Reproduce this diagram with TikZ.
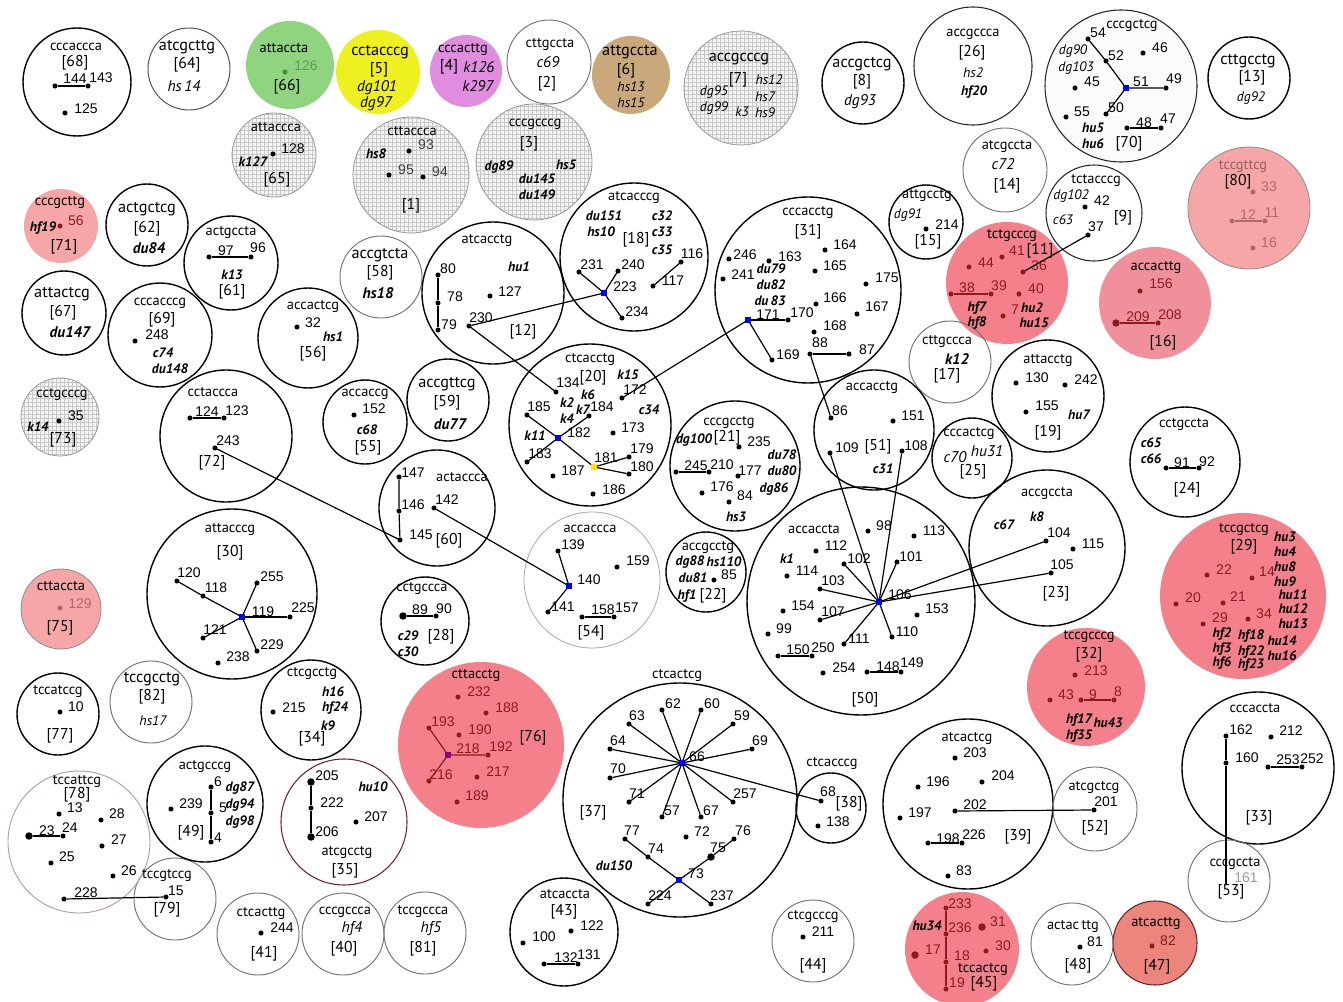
\documentclass[tikz,border=0pt]{standalone}
\usepackage{fontspec}
\setmainfont{PT Sans}
\newfontfamily\numfont{Liberation Sans}
\usetikzlibrary{patterns}
\definecolor{gr1}{HTML}{8FD47E}
\definecolor{ye1}{HTML}{EEF01F}
\definecolor{mg1}{HTML}{E08DE0}
\definecolor{tn1}{HTML}{C9A97B}
\definecolor{pk1}{HTML}{F6A6A7}
\definecolor{pk2}{HTML}{F3808A}
\definecolor{pk3}{HTML}{F0909B}
\definecolor{pk4}{HTML}{EC867D}
\definecolor{dr}{HTML}{8E1B1E}
\definecolor{mr}{HTML}{B0686A}
\definecolor{gdk}{HTML}{3E8E3E}
\definecolor{br78}{HTML}{B89C9C}
\definecolor{br35}{HTML}{6E2424}
\colorlet{dc}{black}
\colorlet{nc}{black}
\tikzset{
  xc/.style={circle, inner sep=0pt, outer sep=0pt, minimum size=#1*1.5pt},
  xbk/.style={draw=black, line width=1.05pt},
  xbt/.style={draw=black!85, line width=0.8pt},
  xgy/.style={draw=black!55, line width=0.7pt},
  xgl/.style={draw=black!35, line width=0.6pt},
  xgrid/.style={draw=black!40, line width=0.6pt, preaction={fill=black!4}, pattern=grid, pattern color=black!22},
  xdot/.style={circle, fill=dc, inner sep=0pt, outer sep=0pt, minimum size=3.8pt},
  xblue/.style={rectangle, inner sep=0pt, outer sep=0pt, minimum size=4.4pt},
  xnum/.style={font=\numfont\fontsize{10.5}{12}\selectfont, text=nc, inner sep=0pt},
  xseq/.style={font=\fontsize{10.8}{12}\selectfont, inner sep=0pt},
  xseqL/.style={font=\fontsize{12.2}{13}\selectfont, inner sep=0pt},
  xbr/.style={font=\fontsize{11.8}{13}\selectfont, inner sep=0pt},
  xit/.style={font=\itshape\fontsize{10.3}{12}\selectfont, inner sep=0pt},
  xitL/.style={font=\itshape\fontsize{11.6}{13}\selectfont, inner sep=0pt},
  xbi/.style={font=\bfseries\itshape\fontsize{10.2}{11}\selectfont, inner sep=0pt},
  xbiL/.style={font=\bfseries\itshape\fontsize{11.5}{13}\selectfont, inner sep=0pt},
  xln/.style={draw=black, line width=0.9pt},
}
\newcommand\Dt[3]{\node[xdot] (d#1) at (#2) {}; \node[xnum] (t#1) at (#3) {#1};}
\newcommand\Bd[3]{\node[xdot,minimum size=5.6pt] (d#1) at (#2) {}; \node[xnum] (t#1) at (#3) {#1};}
\newcommand\Ct[4]{\node[xblue,fill=#4] (d#1) at (#2) {}; \node[xnum] (t#1) at (#3) {#1};}
\begin{document}
\begin{tikzpicture}[x=0.75pt,y=-0.75pt]
\useasboundingbox (0,0) rectangle (1343,1002);
% ---------- filled circles ----------
\node[xc=44, fill=gr1] (c66) at (290,65) {};
\node[xc=42, fill=ye1] (c5) at (378,72) {};
\node[xc=36, fill=mg1] (c4) at (466,71) {};
\node[xc=39, fill=tn1] (c6) at (631,75) {};
\node[xc=37, fill=pk1] (c71) at (61,226) {};
\node[xc=61, fill=pk1, draw=black!45, line width=0.6pt] (c80) at (1249,208) {};
\node[xc=61, fill=pk2] (c11) at (1007,283) {};
\node[xc=56, fill=pk3] (c16) at (1155,303) {};
\node[xc=40, fill=pk1, draw=black!45, line width=0.6pt] (c75) at (61,609) {};
\node[xc=83, fill=pk2] (c29) at (1243,596) {};
\node[xc=59, fill=pk2] (c32) at (1086,687) {};
\node[xc=83, fill=pk2] (c76) at (481,745) {};
\node[xc=57, fill=pk2] (c45) at (962,949) {};
\node[xc=42, fill=pk4, draw=br35, line width=0.8pt] (c47) at (1155,943) {};
% ---------- grid circles ----------
\node[xc=42, xgrid] (c65) at (274,155) {};
\node[xc=58, xgrid] (c1) at (411,175) {};
\node[xc=58, xgrid] (c3) at (534,162) {};
\node[xc=57, xgrid] (c7) at (741,88) {};
\node[xc=39, xgrid] (c73) at (60,417) {};
% ---------- outline circles ----------
\node[xc=54, xbk] (c68) at (77,82) {};
\node[xc=41, xgy, draw=black!70] (c64) at (189,69) {};
\node[xc=42, xgy] (c2) at (549,62) {};
\node[xc=41, xbk] (c8) at (863,83) {};
\node[xc=59, xbt] (c26) at (973,66) {};
\node[xc=76, xbt, fill=black!1.5] (c70) at (1121,86) {};
\node[xc=41, xbk] (c13) at (1249,78) {};
\node[xc=41, xbk] (c62) at (147,225) {};
\node[xc=47, xbk] (c61) at (231,263) {};
\node[xc=41, xgy] (c58) at (381,277) {};
\node[xc=71, xbk] (c12) at (493,293) {};
\node[xc=74, xbk] (c18) at (634,257) {};
\node[xc=93, xbk] (c31) at (808,290) {};
\node[xc=37, xbk] (c15) at (926,222) {};
\node[xc=42, xgy] (c14) at (1005,170) {};
\node[xc=48, xbt] (c9) at (1094,213) {};
\node[xc=41, xgy] (c17) at (950,362) {};
\node[xc=56, xbk] (c19) at (1048,396) {};
\node[xc=55, xbk] (c24) at (1185,462) {};
\node[xc=40, xbk] (c25) at (972,458) {};
\node[xc=60, xbk] (c51) at (874,430) {};
\node[xc=114, xbk] (c50) at (861,601) {};
\node[xc=78, xbk] (c23) at (1047,548) {};
\node[xc=117, xbk] (c37) at (680,800) {};
\node[xc=35, xbk] (c38) at (831,808) {};
\node[xc=85, xbk] (c39) at (968,804) {};
\node[xc=42, xgy] (c52) at (1095,809) {};
\node[xc=76, xbk] (c33) at (1258,768) {};
\node[xc=41, xgy] (c53) at (1229,881) {};
\node[xc=41, xgy] (c48) at (1072,944) {};
\node[xc=41, xgy] (c44) at (813,941) {};
\node[xc=54, xbk] (c43) at (564,932) {};
\node[xc=41, xgy] (c81) at (425,933) {};
\node[xc=41, xgy] (c40) at (343,934) {};
\node[xc=41, xgy] (c41) at (258,934) {};
\node[xc=41, xgy] (c79) at (175,899) {};
\node[xc=71, draw=br78, line width=0.7pt] (c78) at (79,842) {};
\node[xc=58, xbk] (c49) at (205,804) {};
\node[xc=63, draw=br35, line width=0.8pt] (c35) at (344,822) {};
\node[xc=50, xbk] (c34) at (311,710) {};
\node[xc=41, xgy] (c82) at (151,702) {};
\node[xc=41, xbk] (c77) at (58,714) {};
\node[xc=42, xbk] (c67) at (64,313) {};
\node[xc=52, xbk] (c69) at (160,335) {};
\node[xc=50, xbk] (c56) at (308,338) {};
\node[xc=66, xbk] (c72) at (226,436) {};
\node[xc=42, xbk] (c55) at (365,422) {};
\node[xc=41, xbk] (c59) at (448,400) {};
\node[xc=58, xbk] (c60) at (437,508) {};
\node[xc=85, xbk] (c30) at (232,594) {};
\node[xc=44, xbk] (c28) at (425,621) {};
\node[xc=81, xbk] (c20) at (590,425) {};
\node[xc=65, xbk] (c21) at (735,466) {};
\node[xc=40, xbk] (c22) at (706,572) {};
\node[xc=68, xgl] (c54) at (592,580) {};

% ---------- dots (black) ----------
\Dt{144}{55,86}{75,79} \Dt{143}{88,86}{101,78} \Dt{125}{65,113}{86,109}
\Dt{97}{209,257}{226,251} \Dt{96}{251,257}{258,248}
\Dt{54}{1088,39}{1098,33} \Dt{52}{1106,61}{1116,56} \Dt{46}{1143,53}{1160,48}
\Dt{45}{1075,88}{1092,82} \Ct{51}{1126,88}{1141,82}{blue} \Dt{49}{1166,88}{1174,79}
\Dt{55}{1066,117}{1082,112} \Dt{50}{1106,114}{1116,108} \Dt{48}{1127,128}{1144,123} \Dt{47}{1161,128}{1168,119}
\Dt{80}{438,275}{448,269} \Dt{78}{438,303}{455,297} \Dt{79}{438,330}{449,325}
\Dt{127}{490,296}{510,292} \Dt{230}{469,326}{481,318}
\Dt{231}{579,272}{592,265} \Dt{240}{618,271}{633,265} \Ct{223}{604,293}{625,287}{blue}
\Dt{234}{622,318}{637,312} \Dt{116}{681,262}{692,254} \Dt{117}{653,286}{673,281}
\Dt{246}{729,259}{745,255} \Dt{163}{769,261}{790,257} \Dt{164}{825,250}{845,245}
\Dt{241}{723,279}{743,275} \Dt{165}{815,271}{835,266} \Dt{175}{866,284}{887,278}
\Dt{166}{816,304}{835,298} \Dt{167}{857,314}{877,307} \Dt{168}{814,332}{835,326}
\Ct{171}{748,320}{768,315}{blue} \Dt{170}{788,320}{802,313} \Dt{169}{772,360}{788,355}
\Dt{88}{810,354}{820,343} \Dt{87}{849,354}{867,350}
\Dt{214}{926,229}{947,225}
\Dt{42}{1085,207}{1102,201} \Dt{37}{1088,235}{1096,227}
\Dt{130}{1016,383}{1037,378} \Dt{242}{1065,385}{1086,380} \Dt{155}{1026,412}{1047,406}
\Dt{91}{1166,468}{1182,463} \Dt{92}{1199,468}{1207,462}
\Dt{86}{831,418}{840,411} \Dt{151}{893,421}{913,416} \Dt{109}{830,453}{847,448} \Dt{108}{902,451}{916,446}
\Dt{98}{868,531}{884,526} \Dt{113}{914,536}{934,531} \Dt{112}{816,551}{836,546}
\Dt{102}{844,564}{859,559} \Dt{101}{897,562}{911,557} \Dt{114}{787,576}{807,571}
\Dt{103}{820,589}{833,581} \Ct{106}{879,602}{900,595}{blue} \Dt{154}{783,611}{803,606}
\Dt{107}{820,620}{833,612} \Dt{153}{917,615}{937,609} \Dt{99}{768,634}{784,629}
\Dt{110}{892,637}{907,632} \Dt{111}{844,644}{859,639} \Dt{150}{778,656}{798,650}
\Dt{250}{812,656}{823,648} \Dt{254}{823,673}{844,668} \Dt{148}{867,672}{888,667} \Dt{149}{901,672}{912,663}
\Dt{104}{1046,541}{1059,533} \Dt{115}{1073,549}{1093,544} \Dt{105}{1051,573}{1062,565}
\Dt{124}{190,418}{207,412} \Dt{123}{224,418}{237,411} \Dt{243}{215,448}{228,441}
\Dt{152}{354,415}{374,409} \Dt{32}{297,327}{313,323} \Dt{248}{135,341}{157,335}
\Dt{35}{59,421}{76,416}
\Dt{147}{399,477}{413,473} \Dt{146}{399,511}{413,505} \Dt{142}{434,508}{447,500} \Dt{145}{400,540}{421,535}
\Dt{120}{177,581}{189,573} \Dt{118}{203,596}{216,588} \Dt{255}{257,583}{272,577}
\Ct{119}{242,617}{263,612}{blue} \Dt{225}{290,617}{303,608} \Dt{121}{203,638}{215,630}
\Dt{229}{257,651}{272,645} \Dt{238}{218,663}{238,657}
\Bd{89}{403,616}{420,610} \Dt{90}{436,616}{444,609}
\Dt{134}{556,392}{568,383} \Dt{172}{622,398}{635,390} \Dt{185}{527,415}{539,407}
\Dt{184}{589,416}{602,407} \Ct{182}{558,438}{579,433}{blue} \Dt{173}{613,433}{633,428}
\Dt{183}{527,462}{540,454} \Ct{181}{594,467}{606,458}{yellow!85!orange} \Dt{179}{629,457}{642,449}
\Dt{180}{629,474}{642,467} \Dt{187}{553,476}{573,471} \Dt{186}{593,494}{614,490}
\Dt{235}{739,447}{759,442} \Dt{245}{676,472}{696,466} \Dt{210}{709,472}{722,465}
\Dt{177}{738,476}{750,471} \Dt{176}{702,493}{722,487} \Dt{84}{729,502}{745,496}
\Dt{85}{714,580}{729,575}
\Dt{139}{558,551}{573,545} \Dt{159}{617,567}{638,561} \Ct{140}{569,586}{589,580}{blue}
\Dt{141}{548,612}{563,607} \Dt{158}{582,617}{603,610} \Dt{157}{614,617}{627,608}
\Dt{10}{60,712}{76,707} \Dt{215}{273,712}{294,708}
\Dt{6}{211,787}{218,782} \Dt{239}{171,809}{191,804} \Dt{5}{211,813}{223,808} \Dt{4}{211,842}{218,838}
\Bd{205}{311,782}{327,776} \Dt{222}{311,808}{332,803} \Dt{207}{356,822}{376,817} \Bd{206}{311,837}{327,832}
\Dt{13}{59,814}{75,808} \Dt{28}{101,820}{117,814} \Bd{23}{29,836}{47,831} \Dt{24}{63,836}{70,828}
\Dt{27}{102,846}{119,840} \Dt{25}{51,863}{67,857} \Dt{26}{113,876}{129,871} \Dt{228}{64,899}{86,893}
\Dt{15}{166,897}{176,891}
\Dt{244}{261,933}{282,928}
\Dt{122}{571,931}{592,926} \Dt{100}{523,943}{544,937} \Dt{132}{544,964}{566,958} \Dt{131}{578,964}{589,955}
\Ct{66}{682,763}{697,757}{blue} \Dt{62}{662,710}{673,704} \Dt{60}{701,710}{712,704}
\Dt{63}{629,724}{637,716} \Dt{59}{733,724}{742,716} \Dt{64}{610,749}{618,741} \Dt{69}{752,749}{760,741}
\Dt{70}{610,778}{618,769} \Dt{71}{629,802}{637,794} \Dt{57}{662,817}{672,811} \Dt{67}{701,817}{711,811}
\Dt{257}{733,802}{745,794} \Dt{77}{625,839}{632,831} \Dt{72}{686,837}{702,832} \Dt{76}{734,839}{743,831}
\Dt{74}{648,857}{656,849} \Bd{75}{711,857}{718,848} \Ct{73}{679,880}{696,874}{blue}
\Dt{224}{648,904}{660,896} \Dt{237}{711,904}{722,896}
\Dt{68}{821,801}{828,792} \Dt{138}{818,826}{838,822}
\Dt{211}{803,937}{823,932}
\Dt{203}{955,758}{975,753} \Dt{196}{918,787}{938,782} \Dt{204}{982,782}{1003,776}
\Dt{202}{955,811}{975,805} \Dt{197}{900,818}{920,813} \Dt{198}{928,843}{948,839}
\Dt{226}{962,843}{974,835} \Dt{83}{948,876}{964,871}
\Dt{201}{1094,810}{1106,802}
\Dt{162}{1226,736}{1241,730} \Dt{212}{1271,737}{1291,731} \Dt{160}{1226,763}{1247,758}
\Dt{253}{1268,767}{1288,760} \Dt{252}{1302,767}{1312,759}
\coordinate (d161) at (1226,884);
\node[xnum, text=black!40] (t161) at (1246,878) {161};
\Dt{81}{1080,947}{1095,942}
% ---------- coloured dots ----------
\begin{scope}
\colorlet{dc}{gdk}\colorlet{nc}{gdk!85}
\Dt{126}{285,72}{306,66}
\end{scope}
\begin{scope}
\colorlet{dc}{dr}\colorlet{nc}{dr}
\Dt{56}{60,226}{76,221}
\Dt{41}{1002,257}{1017,251} \Dt{44}{969,267}{986,263} \Dt{36}{1023,272}{1039,266}
\Dt{38}{951,294}{967,288} \Dt{39}{991,294}{999,286} \Dt{40}{1019,294}{1036,289} \Dt{7}{1003,316}{1015,310}
\Dt{156}{1140,291}{1161,284} \Bd{209}{1116,323}{1138,317} \Dt{208}{1158,323}{1170,315}
\Dt{22}{1207,575}{1224,570} \Dt{14}{1252,578}{1267,572} \Dt{20}{1176,604}{1193,598}
\Dt{21}{1223,603}{1238,597} \Dt{29}{1203,624}{1220,618} \Dt{34}{1248,619}{1264,614}
\Dt{213}{1075,675}{1096,671} \Dt{43}{1050,700}{1066,695} \Dt{9}{1081,700}{1093,695} \Dt{8}{1114,700}{1118,692}
\Dt{232}{458,697}{479,692} \Dt{188}{486,713}{507,708} \Dt{193}{429,728}{443,722}
\Dt{190}{459,735}{480,730} \Ct{218}{448,755}{468,749}{violet} \Dt{192}{488,755}{501,747}
\Dt{216}{429,781}{441,775} \Dt{217}{477,777}{498,772} \Dt{189}{457,802}{477,796}
\Dt{233}{946,908}{960,904} \Dt{236}{946,934}{960,928} \Bd{31}{982,927}{998,922}
\Bd{17}{915,955}{933,950} \Dt{30}{986,951}{1003,946} \Dt{18}{946,962}{962,956} \Dt{19}{946,989}{957,983}
\Dt{82}{1152,946}{1168,941}
\end{scope}
\begin{scope}
\colorlet{dc}{mr}\colorlet{nc}{mr}
\Dt{33}{1253,192}{1269,187} \Dt{12}{1232,221}{1248,215} \Dt{11}{1265,221}{1272,213} \Dt{16}{1253,248}{1269,243}
\Dt{129}{60,608}{80,604}
\end{scope}

% ---------- connectors ----------
\draw[xln] (d144) -- (d143);
\draw[xln] (d97) -- (d96);
\draw[xln] (d54) -- (d52) -- (d51) -- (d49);
\draw[xln] (d51) -- (d50);
\draw[xln] (d48) -- (d47);
\draw[xln] (d80) -- (d78) -- (d79);
\draw[xln] (d230) -- (d223);
\draw[xln] (d230) -- (d134);
\draw[xln] (d231) -- (d223) -- (d234);
\draw[xln] (d240) -- (d223);
\draw[xln] (d116) -- (d117);
\draw[xln] (d171) -- (d170);
\draw[xln] (d171) -- (d169);
\draw[xln] (d171) -- (d172);
\draw[xln] (d88) -- (d87);
\draw[xln] (d88) -- (d86);
\draw[xln] (d37) -- (d36);
\draw[xln, draw=dr] (d38) -- (d39);
\draw[xln, draw=mr] (d12) -- (d11);
\draw[xln, draw=dr] (d209) -- (d208);
\draw[xln] (d124) -- (d123);
\draw[xln] (d243) -- (d145);
\draw[xln] (d147) -- (d146) -- (d145);
\draw[xln] (d142) -- (d140);
\draw[xln] (d139) -- (d140) -- (d141);
\draw[xln] (d158) -- (d157);
\draw[xln] (d120) -- (d118) -- (d119);
\draw[xln] (d119) -- (d255);
\draw[xln] (d119) -- (d225);
\draw[xln] (d119) -- (d121);
\draw[xln] (d119) -- (d229);
\draw[xln] (d89) -- (d90);
\draw[xln] (d185) -- (d182) -- (d184);
\draw[xln] (d182) -- (d183);
\draw[xln] (d182) -- (d181);
\draw[xln] (d181) -- (d179);
\draw[xln] (d181) -- (d180);
\draw[xln] (d245) -- (d210);
\foreach \t in {102,103,107,111,110,101,104,105,109,108} \draw[xln] (d106) -- (d\t);
\draw[xln] (d150) -- (d250);
\draw[xln] (d148) -- (d149);
\draw[xln] (d91) -- (d92);
\draw[xln, draw=dr] (d9) -- (d8);
\draw[xln, draw=dr] (d193) -- (d218) -- (d192);
\draw[xln, draw=dr] (d216) -- (d218);
\foreach \t in {62,60,63,59,64,69,70,71,57,67,257,68} \draw[xln] (d66) -- (d\t);
\draw[xln] (d77) -- (d74) -- (d73) -- (d75) -- (d76);
\draw[xln] (d224) -- (d73) -- (d237);
\draw[xln] (d132) -- (d131);
\draw[xln] (d198) -- (d226);
\draw[xln] (d202) -- (d201);
\draw[xln] (d162) -- (d160) -- (d161);
\draw[xln] (d253) -- (d252);
\draw[xln, draw=dr] (d233) -- (d236) -- (d18) -- (d19);
\draw[xln] (d23) -- (d24);
\draw[xln] (d228) -- (d15);
\draw[xln] (d6) -- (d5) -- (d4);
\draw[xln] (d205) -- (d222) -- (d206);

% ---------- sequence / bracket / tag labels ----------
% [68]
\node[xseq] (s68) at (76,47) {cccaccca}; \node[xbr] (b68) at (75,63) {[68]};
% [64]
\node[xseqL] (s64) at (187,47) {atcgcttg}; \node[xbr] (b64) at (187,65) {[64]}; \node[xitL] (i64) at (184,86) {hs\,14};
% [66]
\node[xseq] (s66) at (284,48) {attaccta}; \node[xbr] (b66) at (287,87) {[66]};
% [5]
\node[xseqL] (s5) at (380,52) {cctacccg}; \node[xbr] (b5) at (379,70) {[5]};
\node[xitL] (i5a) at (377,88) {dg101}; \node[xitL] (i5b) at (376,104) {dg97};
% [4]
\node[xseq] (s4) at (463,50) {cccacttg}; \node[xbr] (b4) at (449,67) {[4]};
\node[xitL] (i4a) at (479,67) {k126}; \node[xitL] (i4b) at (478,86) {k297};
% [2]
\node[xseq] (s2) at (550,45) {cttgccta}; \node[xitL] (i2) at (548,62) {c69}; \node[xbr] (b2) at (547,84) {[2]};
% [6]
\node[xseqL] (s6) at (630,52) {attgccta}; \node[xbr] (b6) at (626,71) {[6]};
\node[xit] (i6a) at (631,87) {hs13}; \node[xit] (i6b) at (631,103) {hs15};
% [7]
\node[xseqL] (s7) at (739,59) {accgcccg}; \node[xbr] (b7) at (738,80) {[7]};
\node[xit] (i7a) at (769,80) {hs12}; \node[xit] (i7b) at (765,97) {hs7}; \node[xit] (i7c) at (765,113) {hs9};
\node[xit] (i7d) at (714,92) {dg95}; \node[xit] (i7e) at (714,108) {dg99}; \node[xit] (i7f) at (742,112) {k3};
% [8]
\node[xseqL] (s8) at (862,64) {accgctcg}; \node[xbr] (b8) at (862,82) {[8]}; \node[xitL] (i8) at (860,102) {dg93};
% [26]
\node[xseq] (s26) at (973,34) {accgccca}; \node[xbr] (b26) at (972,53) {[26]};
\node[xit] (i26a) at (973,73) {hs2}; \node[xbi] (i26b) at (974,92) {hf20};
% [70]
\node[xseq] (s70) at (1132,26) {cccgctcg}; \node[xbr] (b70) at (1129,144) {[70]};
\node[xit] (i70a) at (1073,51) {dg90}; \node[xit] (i70b) at (1076,68) {dg103};
\node[xbi] (i70c) at (1093,128) {hu5}; \node[xbi] (i70d) at (1093,144) {hu6};
% [13]
\node[xseqL] (s13) at (1248,61) {cttgcctg}; \node[xbr] (b13) at (1252,78) {[13]}; \node[xit] (i13) at (1251,98) {dg92};
% [65]
\node[xseq] (s65) at (276,127) {attaccca}; \node[xbi] (i65) at (253,162) {k127}; \node[xbr] (b65) at (277,180) {[65]};
\node[xnum] (t128) at (293,149) {128}; \node[xdot] (d128) at (273,154) {};
% [1]
\node[xseq] (s1) at (412,131) {cttaccca}; \node[xbi] (i1) at (376,154) {hs8}; \node[xbr] (b1) at (411,206) {[1]};
\node[xdot] (d93) at (409,151) {}; \node[xnum, text=black!75] (t93) at (426,145) {93};
\node[xdot] (d95) at (389,175) {}; \node[xnum, text=black!75] (t95) at (406,170) {95};
\node[xdot] (d94) at (423,177) {}; \node[xnum, text=black!75] (t94) at (440,172) {94};
% [3]
\node[xseq] (s3) at (535,124) {cccgcccg}; \node[xbr] (b3) at (529,144) {[3]};
\node[xbi] (i3a) at (499,167) {dg89}; \node[xbi] (i3b) at (566,165) {hs5};
\node[xbi] (i3c) at (537,179) {du145}; \node[xbi] (i3d) at (537,195) {du149};
% [71]
\node[xseq] (s71) at (60,203) {cccgcttg}; \node[xbi] (i71) at (43,228) {hf19}; \node[xbr] (b71) at (64,247) {[71]};
% [62]
\node[xseqL] (s62) at (147,209) {actgctcg}; \node[xbr] (b62) at (147,229) {[62]}; \node[xbiL] (i62) at (149,248) {du84};
% [61]
\node[xseq] (s61) at (231,233) {actgccta}; \node[xbi] (i61) at (232,275) {k13}; \node[xbr] (b61) at (232,292) {[61]};
% [58]
\node[xseqL] (s58) at (380,255) {accgtcta}; \node[xbr] (b58) at (380,273) {[58]}; \node[xbiL] (i58) at (378,293) {hs18};
% [12]
\node[xseq] (s12) at (487,241) {atcacctg}; \node[xbi] (i12) at (519,267) {hu1}; \node[xbr] (b12) at (523,332) {[12]};
% [18]
\node[xseq] (s18) at (634,198) {atcacccg}; \node[xbr] (b18) at (636,240) {[18]};
\node[xbi] (i18a) at (604,216) {du151}; \node[xbi] (i18b) at (601,232) {hs10};
\node[xbi] (i18c) at (662,216) {c32}; \node[xbi] (i18d) at (662,232) {c33}; \node[xbi] (i18e) at (662,250) {c35};
% [31]
\node[xseq] (s31) at (808,213) {cccacctg}; \node[xbr] (b31) at (808,232) {[31]};
\node[xbi] (i31a) at (771,269) {du79}; \node[xbi] (i31b) at (771,285) {du82}; \node[xbi] (i31c) at (770,301) {du\,83};
% [15]
\node[xseq] (s15) at (927,196) {attgcctg}; \node[xit] (i15) at (908,215) {dg91}; \node[xbr] (b15) at (928,242) {[15]};
% [14]
\node[xseq] (s14) at (1007,147) {atcgccta}; \node[xitL] (i14) at (1003,164) {c72}; \node[xbr] (b14) at (1007,186) {[14]};
% [9]
\node[xseq] (s9) at (1096,181) {tctacccg}; \node[xit] (i9a) at (1071,196) {dg102};
\node[xit] (i9b) at (1063,220) {c63}; \node[xbr] (b9) at (1123,218) {[9]};
% [80]
\node[xseq, text=mr!90!black] (s80) at (1243,167) {tccgttcg}; \node[xbr] (b80) at (1238,182) {[80]};
% [11]
\node[xseq] (s11) at (1012,236) {tctgcccg}; \node[xbr] (b11) at (1040,251) {[11]};
\node[xbi] (i11a) at (977,308) {hf7}; \node[xbi] (i11b) at (977,323) {hf8};
\node[xbi] (i11c) at (1032,308) {hu2}; \node[xbi] (i11d) at (1034,323) {hu15};
% [16]
\node[xseq] (s16) at (1156,268) {accacttg}; \node[xbr] (b16) at (1163,343) {[16]};
% [17]
\node[xseq] (s17) at (947,342) {cttgccca}; \node[xbiL] (i17) at (957,359) {k12}; \node[xbr] (b17) at (947,376) {[17]};
% [19]
\node[xseq] (s19) at (1048,361) {attacctg}; \node[xbi] (i19) at (1079,415) {hu7}; \node[xbr] (b19) at (1048,433) {[19]};
% [24]
\node[xseq] (s24) at (1184,425) {cctgccta}; \node[xbi] (i24a) at (1151,443) {c65}; \node[xbi] (i24b) at (1151,459) {c66};
\node[xbr] (b24) at (1187,490) {[24]};
% [25]
\node[xseq] (s25) at (969,434) {cccactcg}; \node[xitL] (i25a) at (955,457) {c70}; \node[xitL] (i25b) at (987,451) {hu31};
\node[xbr] (b25) at (973,472) {[25]};
% [51]
\node[xseq] (s51) at (872,388) {accacctg}; \node[xbr] (b51) at (878,447) {[51]}; \node[xbi] (i51) at (883,469) {c31};
% [50]
\node[xseq] (s50) at (814,529) {accaccta}; \node[xbi] (i50) at (787,559) {k1}; \node[xbr] (b50) at (865,700) {[50]};
% [23]
\node[xseq] (s23) at (1047,494) {accgccta}; \node[xbi] (i23a) at (1004,525) {c67}; \node[xbi] (i23b) at (1037,517) {k8};
\node[xbr] (b23) at (1056,594) {[23]};
% [29]
\node[xseq] (s29) at (1244,530) {tccgctcg}; \node[xbr] (b29) at (1244,547) {[29]};
\node[xbi] (i29a) at (1285,537) {hu3}; \node[xbi] (i29b) at (1285,552) {hu4}; \node[xbi] (i29c) at (1285,567) {hu8};
\node[xbi] (i29d) at (1285,582) {hu9}; \node[xbi] (i29e) at (1293,595) {hu11}; \node[xbi] (i29f) at (1293,609) {hu12};
\node[xbi] (i29g) at (1293,624) {hu13}; \node[xbi] (i29h) at (1282,641) {hu14}; \node[xbi] (i29i) at (1282,656) {hu16};
\node[xbi] (i29j) at (1222,634) {hf2}; \node[xbi] (i29k) at (1222,649) {hf3}; \node[xbi] (i29l) at (1222,663) {hf6};
\node[xbi] (i29m) at (1251,636) {hf18}; \node[xbi] (i29n) at (1251,652) {hf22}; \node[xbi] (i29o) at (1251,665) {hf23};
% [32]
\node[xseq] (s32) at (1089,637) {tccgcccg}; \node[xbr] (b32) at (1089,655) {[32]};
\node[xbi] (i32a) at (1079,720) {hf17}; \node[xbi] (i32b) at (1108,723) {hu43}; \node[xbi] (i32c) at (1079,736) {hf35};
% [76]
\node[xseq] (s76) at (476,676) {cttacctg}; \node[xbr] (b76) at (533,738) {[76]};
% [37]
\node[xseq] (s37) at (677,676) {ctcactcg}; \node[xbr] (b37) at (593,813) {[37]}; \node[xbi] (i37) at (614,866) {du150};
% [38]
\node[xseq] (s38) at (832,764) {ctcacccg}; \node[xbr] (b38) at (849,804) {[38]};
% [39]
\node[xseq] (s39) at (967,739) {atcactcg}; \node[xbr] (b39) at (1018,837) {[39]};
% [52]
\node[xseq] (s52) at (1094,788) {atcgctcg}; \node[xbr] (b52) at (1095,828) {[52]};
% [33]
\node[xseq] (s33) at (1255,708) {cccaccta}; \node[xbr] (b33) at (1259,818) {[33]};
% [53]
\node[xseq] (s53) at (1235,864) {cccgccta}; \node[xbr] (b53) at (1231,892) {[53]};
% [45]
\node[xbi] (i45) at (927,926) {hu34}; \node[xseq] (s45) at (983,970) {tccactcg}; \node[xbr] (b45) at (984,984) {[45]};
% [48]
\node[xseq] (s48) at (1073,927) {actac\,ttg}; \node[xbr] (b48) at (1078,966) {[48]};
% [47]
\node[xseq] (s47) at (1156,924) {atcacttg}; \node[xbr] (b47) at (1157,967) {[47]};
% [44]
\node[xseq] (s44) at (813,917) {ctcgcccg}; \node[xbr] (b44) at (813,966) {[44]};
% [43]
\node[xseq] (s43) at (565,894) {atcaccta}; \node[xbr] (b43) at (564,912) {[43]};
% [81] [40] [41]
\node[xseq] (s81) at (423,912) {tccgccca}; \node[xitL] (i81) at (431,929) {hf5}; \node[xbr] (b81) at (423,949) {[81]};
\node[xseq] (s40) at (345,912) {cccgccca}; \node[xitL] (i40) at (352,929) {hf4}; \node[xbr] (b40) at (344,949) {[40]};
\node[xseq] (s41) at (261,914) {ctcacttg}; \node[xbr] (b41) at (264,954) {[41]};
% [79] [78]
\node[xseq] (s79) at (167,876) {tccgtccg}; \node[xbr] (b79) at (167,910) {[79]};
\node[xseq] (s78) at (77,782) {tccattcg}; \node[xbr] (b78) at (77,795) {[78]};
% [49]
\node[xseq] (s49) at (205,767) {actgcccg}; \node[xbr] (b49) at (191,833) {[49]};
\node[xbi] (i49a) at (240,788) {dg87}; \node[xbi] (i49b) at (240,805) {dg94}; \node[xbi] (i49c) at (240,822) {dg98};
% [35]
\node[xbi] (i35) at (373,787) {hu10}; \node[xseq] (s35) at (347,853) {atcgcctg}; \node[xbr] (b35) at (345,871) {[35]};
% [34]
\node[xseq] (s34) at (312,674) {ctcgcctg}; \node[xbi] (i34a) at (333,692) {h16}; \node[xbi] (i34b) at (335,708) {hf24};
\node[xbi] (i34c) at (328,726) {k9}; \node[xbr] (b34) at (312,739) {[34]};
% [82] [77]
\node[xseqL] (s82) at (152,679) {tccgcctg}; \node[xbr] (b82) at (152,697) {[82]}; \node[xit] (i82) at (153,721) {hs17};
\node[xseq] (s77) at (58,692) {tccatccg}; \node[xbr] (b77) at (60,736) {[77]};
% [75] [73]
\node[xseq] (s75) at (61,586) {cttaccta}; \node[xbr] (b75) at (60,628) {[75]};
\node[xseq] (s73) at (62,395) {cctgcccg}; \node[xbi] (i73) at (38,427) {k14}; \node[xbr] (b73) at (63,440) {[73]};
% [67] [69]
\node[xseqL] (s67) at (62,294) {attactcg}; \node[xbr] (b67) at (63,313) {[67]}; \node[xbiL] (i67) at (70,332) {du147};
\node[xseq] (s69) at (160,303) {cccacccg}; \node[xbr] (b69) at (162,320) {[69]};
\node[xbi] (i69a) at (163,353) {c74}; \node[xbi] (i69b) at (170,369) {du148};
% [56] [72] [55] [59] [60]
\node[xseq] (s56) at (313,307) {accactcg}; \node[xbi] (i56) at (333,337) {hs1}; \node[xbr] (b56) at (313,354) {[56]};
\node[xseq] (s72) at (213,392) {cctaccca}; \node[xbr] (b72) at (212,463) {[72]};
\node[xseq] (s55) at (365,394) {accaccg}; \node[xbi] (i55) at (367,430) {c68}; \node[xbr] (b55) at (368,448) {[55]};
\node[xseqL] (s59) at (447,384) {accgttcg}; \node[xbr] (b59) at (447,403) {[59]}; \node[xbiL] (i59) at (450,424) {du77};
\node[xseq] (s60) at (462,477) {actaccca}; \node[xbr] (b60) at (449,541) {[60]};
% [30] [28]
\node[xseq] (s30) at (230,530) {attacccg}; \node[xbr] (b30) at (230,553) {[30]};
\node[xseq] (s28) at (422,589) {cctgccca}; \node[xbi] (i28a) at (408,636) {c29}; \node[xbi] (i28b) at (408,652) {c30};
\node[xbr] (b28) at (441,637) {[28]};
% [20]
\node[xseq] (s20) at (590,360) {ctcacctg}; \node[xbr] (b20) at (593,378) {[20]};
\node[xbi] (i20a) at (628,375) {k15}; \node[xbi] (i20b) at (588,395) {k6}; \node[xbi] (i20c) at (567,403) {k2};
\node[xbi] (i20d) at (583,410) {k7}; \node[xbi] (i20e) at (649,410) {c34}; \node[xbi] (i20f) at (567,419) {k4};
\node[xbi] (i20g) at (535,436) {k11};
% [21]
\node[xseq] (s21) at (729,423) {cccgcctg}; \node[xbr] (b21) at (727,438) {[21]};
\node[xbi] (i21a) at (694,440) {dg100}; \node[xbi] (i21b) at (782,455) {du78}; \node[xbi] (i21c) at (782,471) {du80};
\node[xbi] (i21d) at (774,489) {dg86}; \node[xbi] (i21e) at (736,517) {hs3};
% [22]
\node[xseq] (s22) at (708,548) {accgcctg}; \node[xbi] (i22a) at (690,562) {dg88}; \node[xbi] (i22b) at (724,562) {hs110};
\node[xbi] (i22c) at (693,578) {du81}; \node[xbi] (i22d) at (687,596) {hf1}; \node[xbr] (b22) at (713,596) {[22]};
% [54]
\node[xseq] (s54) at (590,529) {accaccca}; \node[xbr] (b54) at (591,633) {[54]};
\end{tikzpicture}
\end{document}
